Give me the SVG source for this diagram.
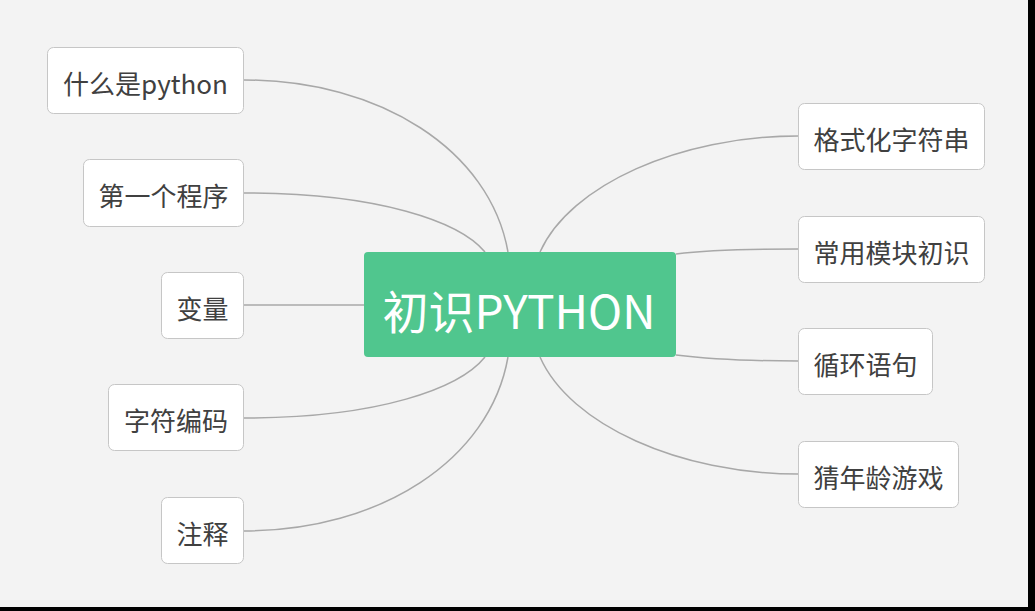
<svg xmlns="http://www.w3.org/2000/svg" width="1035" height="611" viewBox="0 0 1035 611">
<style>
.bg{fill:#f3f3f3}
.node rect{fill:#ffffff;stroke:#c6c6c6;stroke-width:1}
.node text{font-family:"Noto Sans CJK SC","Noto Sans",sans-serif;font-size:26px;fill:#404040;text-anchor:middle;dominant-baseline:central}
#center rect{fill:#50c68e;stroke:none}
#center text{font-family:"Noto Sans CJK SC","Noto Sans",sans-serif;font-size:46px;fill:#ffffff;text-anchor:middle;dominant-baseline:central}
.conn path{fill:none;stroke:#a8a8a8;stroke-width:1.5}
</style>
<rect class="bg" x="0" y="0" width="1035" height="611"/>
<rect x="1028" y="0" width="7" height="611" fill="#000"/>
<rect x="0" y="607" width="1035" height="4" fill="#000"/>
<g class="conn" id="connectors">
<path d="M244,80 C380,80 490,150 508,252"/>
<path d="M244,193 C380,193 460,222 485,252"/>
<path d="M244,305 L364,305"/>
<path d="M244,418 C380,418 460,388 485,357"/>
<path d="M244,531 C380,531 490,460 508,357"/>
<path d="M798,136 C680,136 570,185 540,252"/>
<path d="M798,249 C740,249 700,251 676,254"/>
<path d="M798,361 C740,361 700,358 676,355"/>
<path d="M798,474 C680,474 570,425 540,357"/>
</g>
<g id="center"><rect x="364" y="252" width="312" height="105" rx="4"/><text x="519" y="309">初识PYTHON</text></g>
<g class="node" id="n1"><rect x="47.5" y="47.5" width="196" height="66" rx="6"/><text x="145.5" y="82">什么是python</text></g>
<g class="node" id="n2"><rect x="83.5" y="159.5" width="160" height="67" rx="6"/><text x="163.5" y="194.5">第一个程序</text></g>
<g class="node" id="n3"><rect x="161.5" y="272.5" width="82" height="66" rx="6"/><text x="202.5" y="307">变量</text></g>
<g class="node" id="n4"><rect x="108.5" y="384.5" width="135" height="66" rx="6"/><text x="176" y="419">字符编码</text></g>
<g class="node" id="n5"><rect x="161.5" y="497.5" width="82" height="66" rx="6"/><text x="202.5" y="532">注释</text></g>
<g class="node" id="n6"><rect x="798.5" y="103.5" width="186" height="66" rx="6"/><text x="891.5" y="138">格式化字符串</text></g>
<g class="node" id="n7"><rect x="798.5" y="216.5" width="186" height="66" rx="6"/><text x="891.5" y="251">常用模块初识</text></g>
<g class="node" id="n8"><rect x="798.5" y="328.5" width="134" height="66" rx="6"/><text x="865.5" y="363">循环语句</text></g>
<g class="node" id="n9"><rect x="798.5" y="441.5" width="160" height="66" rx="6"/><text x="878.5" y="476">猜年龄游戏</text></g>
</svg>
